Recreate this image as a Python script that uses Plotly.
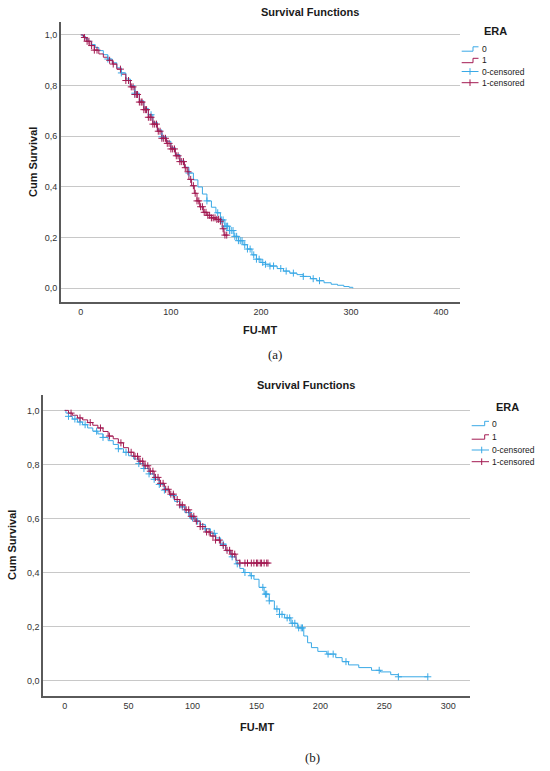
import numpy as np
import plotly.graph_objects as go

# ---- panel (a): Kaplan-Meier steps ----
a_era0_t = [0, 2, 5, 8, 12, 16, 20, 25, 30, 35, 40, 45, 50, 55, 60, 65, 70, 75, 80, 85,
            90, 95, 100, 105, 110, 115, 120, 125, 130, 135, 140, 145, 150, 155, 160, 165,
            170, 175, 180, 185, 190, 195, 200, 205, 210, 218, 225, 232, 240, 247, 255,
            262, 270, 278, 285, 292, 298, 302]
a_era0_s = [1.0, 0.995, 0.985, 0.975, 0.962, 0.95, 0.938, 0.922, 0.905, 0.89, 0.87, 0.85,
            0.826, 0.8, 0.77, 0.74, 0.71, 0.685, 0.655, 0.625, 0.598, 0.58, 0.555, 0.528,
            0.503, 0.478, 0.455, 0.428, 0.4, 0.372, 0.345, 0.32, 0.298, 0.27, 0.245, 0.228,
            0.205, 0.188, 0.172, 0.155, 0.132, 0.115, 0.102, 0.095, 0.088, 0.078, 0.068,
            0.06, 0.054, 0.047, 0.038, 0.03, 0.022, 0.016, 0.012, 0.007, 0.004, 0.0]
a_era1_t = [0, 3, 6, 10, 15, 20, 25, 30, 35, 40, 45, 50, 55, 60, 65, 70, 75, 80, 85, 90,
            95, 100, 105, 110, 115, 118, 120, 123, 126, 129, 132, 136, 140, 145, 150, 155,
            157, 159, 162]
a_era1_s = [1.0, 0.99, 0.975, 0.958, 0.94, 0.925, 0.912, 0.9, 0.885, 0.865, 0.845, 0.82,
            0.795, 0.765, 0.735, 0.705, 0.675, 0.648, 0.62, 0.592, 0.572, 0.55, 0.523, 0.5,
            0.476, 0.46, 0.43, 0.405, 0.375, 0.345, 0.322, 0.3, 0.288, 0.278, 0.272, 0.265,
            0.235, 0.21, 0.21]
a_era0_cens = [30, 45, 60, 78, 90, 120, 140, 152, 156, 158, 160, 162, 163, 165, 167, 169,
               171, 173, 175, 177, 179, 182, 185, 188, 192, 195, 198, 202, 205, 210, 214,
               222, 228, 236, 247, 258, 265]
a_era1_cens = [4, 7, 9, 12, 15, 18, 32, 36, 44, 50, 53, 56, 58, 60, 62, 63, 65, 67, 68, 70,
               72, 73, 75, 77, 78, 80, 82, 84, 86, 88, 90, 92, 94, 96, 98, 100, 102, 104,
               106, 108, 110, 112, 114, 116, 119, 122, 125, 127, 129, 131, 133, 135, 137,
               139, 141, 143, 145, 147, 149, 151, 153, 155, 158, 160, 162]

# ---- panel (b) ----
b_era0_t = [0, 1, 3, 6, 10, 14, 18, 22, 26, 30, 34, 38, 42, 46, 50, 54, 58, 62, 66, 70,
            74, 78, 82, 86, 90, 94, 98, 102, 106, 110, 114, 118, 122, 126, 130, 134, 137,
            140, 145, 148, 152, 156, 160, 164, 168, 172, 177, 182, 187, 190, 193, 198, 205,
            212, 217, 222, 230, 240, 247, 255, 261, 284]
b_era0_s = [1.0, 0.99, 0.978, 0.968, 0.957, 0.947, 0.935, 0.923, 0.913, 0.9, 0.888, 0.874,
            0.858, 0.845, 0.832, 0.82, 0.803, 0.785, 0.765, 0.745, 0.726, 0.705, 0.685,
            0.663, 0.643, 0.622, 0.602, 0.59, 0.578, 0.562, 0.545, 0.528, 0.505, 0.48,
            0.458, 0.432, 0.415, 0.4, 0.388, 0.375, 0.345, 0.32, 0.295, 0.265, 0.245, 0.232,
            0.212, 0.195, 0.165, 0.14, 0.122, 0.108, 0.098, 0.085, 0.07, 0.058, 0.048,
            0.038, 0.032, 0.022, 0.014, 0.014]
b_era1_t = [0, 3, 6, 10, 14, 18, 22, 26, 30, 34, 38, 42, 46, 50, 54, 58, 62, 66, 70, 74,
            78, 82, 86, 90, 94, 98, 102, 106, 110, 114, 118, 122, 126, 130, 134, 137, 159]
b_era1_s = [1.0, 0.99, 0.982, 0.972, 0.965, 0.955, 0.945, 0.935, 0.922, 0.905, 0.895,
            0.88, 0.862, 0.845, 0.83, 0.812, 0.795, 0.775, 0.752, 0.73, 0.708, 0.69, 0.67,
            0.65, 0.632, 0.608, 0.59, 0.57, 0.55, 0.535, 0.52, 0.5, 0.482, 0.468, 0.445,
            0.435, 0.435]
b_era0_cens = [3, 8, 12, 16, 25, 30, 42, 48, 58, 62, 66, 70, 74, 78, 85, 92, 97, 100, 104,
               110, 117, 124, 131, 135, 141, 146, 155, 157, 158, 160, 166, 168, 170, 174,
               176, 178, 180, 183, 185, 186, 206, 210, 220, 246, 261, 284]
b_era1_cens = [5, 12, 20, 28, 35, 44, 52, 55, 57, 59, 61, 63, 65, 67, 69, 71, 73, 75, 77,
               79, 81, 83, 85, 88, 90, 92, 95, 97, 99, 101, 103, 106, 108, 111, 113, 116,
               118, 121, 124, 127, 129, 131, 133, 137, 141, 143, 146, 148, 150, 151, 153,
               154, 156, 158, 159]

y_ticks = [0.0, 0.2, 0.4, 0.6, 0.8, 1.0]
a_x_ticks = [0, 100, 200, 300, 400]
b_x_ticks = [0, 50, 100, 150, 200, 250, 300]

BLUE = '#3AA9E6'
RED = '#A31A52'
W, H = 550, 771
FONT = 'Liberation Sans, Arial, sans-serif'


def step_at(times, surv, t):
    # survival value of the step curve at time t (censor marks sit on the curve)
    times = np.asarray(times)
    surv = np.asarray(surv)
    idx = np.searchsorted(times, np.asarray(t), side='right') - 1
    return surv[idx]


def px(x, y):
    # pixel position -> paper coordinates (margins are zero)
    return x / W, 1 - y / H


fig = go.Figure()

panels = [
    ('x', 'y', a_era0_t, a_era0_s, a_era1_t, a_era1_s, a_era0_cens, a_era1_cens),
    ('x2', 'y2', b_era0_t, b_era0_s, b_era1_t, b_era1_s, b_era0_cens, b_era1_cens),
]
for xa, ya, t0, s0, t1, s1, c0, c1 in panels:
    for t, s, col in [(t0, s0, BLUE), (t1, s1, RED)]:
        fig.add_trace(go.Scatter(x=t, y=s, mode='lines', line=dict(color=col, width=1, shape='hv'),
                                 xaxis=xa, yaxis=ya, showlegend=False, hoverinfo='skip'))
    for t, s, c, col in [(t0, s0, c0, BLUE), (t1, s1, c1, RED)]:
        fig.add_trace(go.Scatter(x=c, y=step_at(t, s, c), mode='markers',
                                 marker=dict(symbol='cross-thin', size=5, color=col,
                                             line=dict(color=col, width=1)),
                                 xaxis=xa, yaxis=ya, showlegend=False, hoverinfo='skip'))

axis_common = dict(showline=True, linecolor='#5a5a5a', linewidth=2, mirror=False,
                   zeroline=False, ticks='', tickfont=dict(family=FONT, size=9, color='#333333'))

fig.update_layout(
    width=W, height=H,
    margin=dict(l=0, r=0, t=0, b=0),
    paper_bgcolor='white', plot_bgcolor='white',
    separators=',.',
    showlegend=False,
    xaxis=dict(domain=[61 / W, 460 / W], range=[-22, 421], tickvals=a_x_ticks,
               showgrid=False, anchor='y', **axis_common),
    yaxis=dict(domain=[1 - 302 / H, 1 - 22 / H], range=[-0.054, 1.051], tickvals=y_ticks,
               tickformat='.1f', showgrid=True, gridcolor='#c8c8c8', gridwidth=1,
               anchor='x', **axis_common),
    xaxis2=dict(domain=[43.3 / W, 470 / W], range=[-16.7, 317], tickvals=b_x_ticks,
                showgrid=False, anchor='y2', **axis_common),
    yaxis2=dict(domain=[1 - 695.7 / H, 1 - 395 / H], range=[-0.056, 1.057], tickvals=y_ticks,
                tickformat='.1f', showgrid=True, gridcolor='#c8c8c8', gridwidth=1,
                anchor='x2', **axis_common),
)

annotations = []
shapes = []


def text(x, y, s, size, bold=False, angle=0, xanchor='center', family=FONT):
    ax, ay = px(x, y)
    annotations.append(dict(x=ax, y=ay, xref='paper', yref='paper', text=f'<b>{s}</b>' if bold else s,
                            showarrow=False, xanchor=xanchor, yanchor='middle', textangle=angle,
                            font=dict(family=family, size=size, color='#1a1a1a')))


def legend(x0, ytitle, xtitle, rows, xtext, xcross):
    text(xtitle, ytitle, 'ERA', 11, bold=True, xanchor='left')
    labels = ['0', '1', '0-censored', '1-censored']
    cols = [BLUE, RED, BLUE, RED]
    for i, (yr, lab, col) in enumerate(zip(rows, labels, cols)):
        text(xtext, yr, lab, 8.5, xanchor='left')
        if i < 2:
            xa, ya = px(x0, yr + 2.2)
            xb, yb = px(xcross + 3, yr - 2.2)
            xc, _ = px(xtext - 1, 0)
            shapes.append(dict(type='path', xref='paper', yref='paper',
                               path=f'M{xa},{ya} L{xb},{ya} L{xb},{yb} L{xc},{yb}',
                               line=dict(color=col, width=1)))
        else:
            xa, ya = px(x0, yr)
            xc, _ = px(xtext - 1, 0)
            xm, y1 = px(xcross, yr - 3.3)
            _, y2 = px(xcross, yr + 3.3)
            shapes.append(dict(type='line', xref='paper', yref='paper', x0=xa, x1=xc, y0=ya, y1=ya,
                               line=dict(color=col, width=1)))
            shapes.append(dict(type='line', xref='paper', yref='paper', x0=xm, x1=xm, y0=y1, y1=y2,
                               line=dict(color=col, width=1)))


# panel (a) texts
text(310, 12, 'Survival Functions', 11, bold=True)
text(260, 330, 'FU-MT', 11, bold=True)
text(33, 162, 'Cum Survival', 11, bold=True, angle=-90)
text(275, 355, '(a)', 13, family='Liberation Serif, serif')
legend(461.7, 31.5, 481.5, [49, 60.5, 71.5, 82.7], 479.5, 470)

# panel (b) texts
text(306, 385, 'Survival Functions', 11, bold=True)
text(257, 727, 'FU-MT', 11, bold=True)
text(12, 545, 'Cum Survival', 11, bold=True, angle=-90)
text(312, 757, '(b)', 13, family='Liberation Serif, serif')
legend(471.7, 407, 494, [423.5, 437, 450, 461.7], 490, 481.7)

fig.update_layout(annotations=annotations, shapes=shapes)

# drop the default page margin so the figure fills the window
fig.write_html("out.html", config={'displayModeBar': False},
               post_script="document.body.style.margin='0';")
